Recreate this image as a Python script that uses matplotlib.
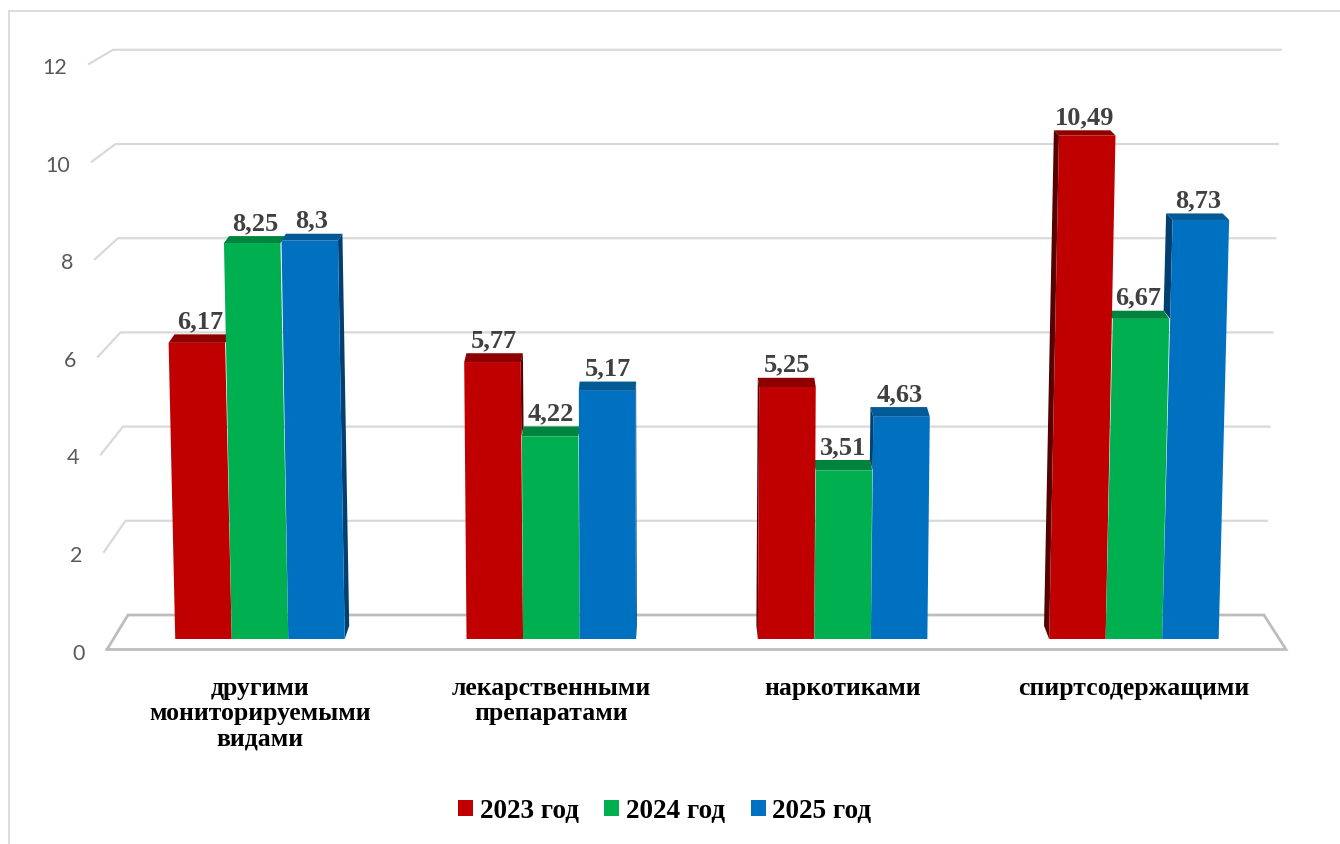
import numpy as np
import matplotlib.pyplot as plt
from matplotlib.patches import Polygon, Rectangle
from matplotlib.transforms import Affine2D

categories = ['другими\nмониторируемыми\nвидами', 'лекарственными\nпрепаратами',
              'наркотиками', 'спиртсодержащими']
years = ['2023 год', '2024 год', '2025 год']
v2023 = [6.17, 5.77, 5.25, 10.49]
v2024 = [8.25, 4.22, 3.51, 6.67]
v2025 = [8.3, 5.17, 4.63, 8.73]
yticks = [0, 2, 4, 6, 8, 10, 12]

front_colors = ['#C00000', '#00B050', '#0070C0']
top_colors = ['#8E0000', '#00833C', '#005A96']
side_colors = ['#560000', '#005C28', '#003F70']

W, H = 1340, 845
fig = plt.figure(figsize=(W / 100, H / 100), dpi=100)
ax = fig.add_axes([0, 0, 1, 1])

# screen scale: px per category step and px per unit of value
PXX, PXY = 291.3, 48.0
X0, Y0 = 260.0, 640.0      # first group centre / bar base, px from left / top
VPX = 670.0                # horizontal vanishing point, px
ax.set_xlim(-X0 / PXX, (W - X0) / PXX)
ax.set_ylim(-(H - Y0) / PXY, Y0 / PXY)
ax.axis('off')


def dx_(px):
    return (px - X0) / PXX


def dy_(py):
    return (Y0 - py) / PXY


def to_px(x):
    return X0 + x * PXX


def to_py(v):
    return Y0 - v * PXY


def tilt(xc):
    # bars lean outwards from the centre a little (perspective)
    return 4.8e-5 * (to_px(xc) - VPX) * PXY / PXX


def depth(xc, v):
    ddx = -(to_px(xc) - VPX) * 0.0125 / PXX
    ddy = (3 + 0.016 * to_py(v)) / PXY
    return ddx, ddy


# chart frame
ax.add_patch(Rectangle((9 / W, -0.1), 2, 1 - 12 / H + 0.1, transform=ax.transAxes,
                       fill=False, ec='#d9d9d9', lw=1.3, clip_on=False))

# back wall gridlines with their slanted side stubs, and tick labels
for t in yticks:
    fy = dy_(650.5 - 48.8 * t)
    by = dy_(616 - 47.1 * t)
    fx = dx_(107 - 1.5 * t)
    bx = dx_(128 - 1.25 * t)
    rx = dx_(1264 + 1.4 * t)
    if t == 0:
        fr = dx_(1286)
        ax.plot([fx, bx, rx, fr, fx], [fy, by, by, fy, fy], color='#bdbdbd',
                lw=2, zorder=1, solid_joinstyle='miter')
    else:
        ax.plot([fx, bx, rx], [fy, by, by], color='#d9d9d9', lw=1.6, zorder=1)
    ax.text(fx - 22 / PXX, fy - 3 / PXY, str(t), ha='right', va='center',
            fontsize=15.5, family='Lato', color='#595959')

# bars
series = [v2023, v2024, v2025]
bw = 0.194
xs = np.arange(len(categories))
for j, vals in enumerate(series):
    pos = xs + (j - 1) * bw
    bars = ax.bar(pos, vals, width=bw, color=front_colors[j], label=years[j],
                  zorder=3, linewidth=0)
    for i, (b, v, xc) in enumerate(zip(bars, vals, pos)):
        s = tilt(xc)
        b.set_transform(Affine2D(np.array([[1, s, 0], [0, 1, 0], [0, 0, 1]])) + ax.transData)
        xl, xr = xc - bw / 2, xc + bw / 2
        ddx, ddy = depth(xc, v)
        top = [(xl + s * v, v), (xr + s * v, v), (xr + s * v + ddx, v + ddy),
               (xl + s * v + ddx, v + ddy)]
        ax.add_patch(Polygon(top, closed=True, fc=top_colors[j], ec='none', zorder=2))

        # visible side face
        nb = j + 1 if ddx > 0 else j - 1
        low = series[nb][i] if 0 <= nb < 3 else 0.0
        if low < v:
            edge = xr if ddx > 0 else xl
            _, dlow = depth(xc, low)
            side = [(edge + s * low, low), (edge + s * v, v),
                    (edge + s * v + ddx, v + ddy), (edge + s * low + ddx, low + dlow)]
            ax.add_patch(Polygon(side, closed=True, fc=side_colors[j], ec='none', zorder=2))

        ax.text(xc + s * v + ddx / 2, v + ddy + 7 / PXY, f'{v:g}'.replace('.', ','),
                ha='center', va='baseline', fontsize=19, fontweight='bold',
                family='Liberation Serif', color='#404040', zorder=5)

# category names
for i, name in enumerate(categories):
    ax.text(xs[i], dy_(677), name, ha='center', va='top', fontsize=18.5,
            fontweight='bold', family='Liberation Serif', color='black',
            linespacing=1.12)

ax.legend(loc='center', bbox_to_anchor=(0.496, 1 - 812 / H), bbox_transform=fig.transFigure,
          ncol=3, frameon=False, handlelength=0.55, handleheight=0.55,
          handletextpad=0.25, columnspacing=0.95,
          prop={'family': 'Liberation Serif', 'weight': 'bold', 'size': 19.5})

fig.savefig('out.png', dpi=100, facecolor='white')
